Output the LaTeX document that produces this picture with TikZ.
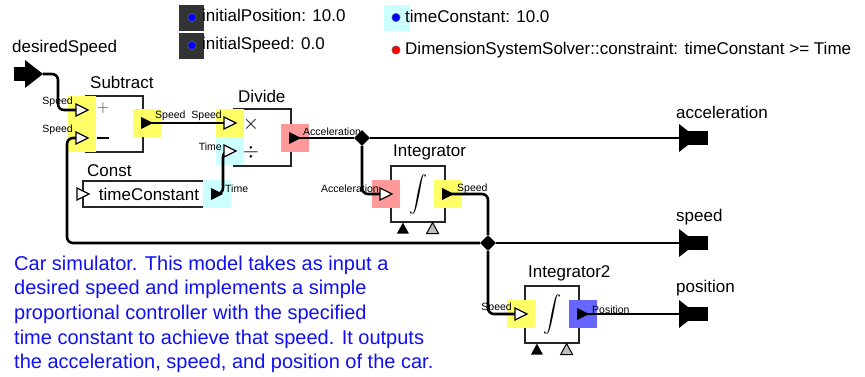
\documentclass[tikz,border=0pt]{standalone}
\usepackage{fontspec}
\setmainfont{Liberation Sans}
\usetikzlibrary{shapes.geometric,calc}

\definecolor{hlyellow}{HTML}{FFFF66}
\definecolor{hlcyan}{HTML}{CCFFFF}
\definecolor{hlred}{HTML}{FF9999}
\definecolor{hlblue}{HTML}{6666FF}
\definecolor{paramgray}{HTML}{333333}
\definecolor{notecolor}{HTML}{1010F0}

\newcommand\bigtxt{\fontsize{17}{20}\selectfont}
\newcommand\smalltxt{\fontsize{10.5}{12}\selectfont}
\newcommand\bigint{\resizebox*{!}{40pt}{$\displaystyle\int$}}

\tikzset{
  block/.style={draw=black!85,line width=1.2pt,fill=white,inner sep=0pt},
  portbox/.style={minimum size=28pt,inner sep=0pt},
  wire/.style={line width=2.6pt,rounded corners=6pt},
  plabel/.style={font=\smalltxt,inner sep=0pt},
  btitle/.style={font=\bigtxt,inner sep=0pt,anchor=base west},
  param/.style={font=\bigtxt,inner sep=0pt,anchor=base west},
  junction/.style={diamond,fill=black,inner sep=0pt,minimum size=16pt},
  inarrow/.pic={\filldraw[fill=white,line width=1.2pt] (-6,-6) -- (6,0) -- (-6,6) -- cycle;},
  outarrow/.pic={\fill (-6,-6) -- (6,0) -- (-6,6) -- cycle;},
  extin/.pic={\fill (-18,-14) -- (0,0) -- (-18,14) -- cycle; \fill (-29,-7) rectangle (-15,7);},
  extout/.pic={\fill (0,-14) -- (18,0) -- (0,14) -- cycle; \fill (9,-7) rectangle (29,7);},
}

\begin{document}
\begin{tikzpicture}[x=1pt,y=-1pt]
 \useasboundingbox (0,0) rectangle (865,377);
 % parameters
 \fill[paramgray] (179,5) rectangle (204,31);
 \fill[paramgray] (179,33) rectangle (204,59);
 \fill[hlcyan] (384,5) rectangle (410,31);
 \foreach \x/\y/\c in {192/17.5/blue,192/45.5/blue,396/17.5/blue,396/50/red}
   \filldraw[fill=\c,draw=black!60,line width=.5pt] (\x,\y) circle (4.2);
 \node[param] (p-pos) at (202,22) {initialPosition: 10.0};
 \node[param] (p-spd) at (202,50) {initialSpeed: 0.0};
 \node[param] (p-tc) at (405,22.5) {timeConstant: 10.0};
 \node[param] (p-chk) at (405,55) {DimensionSystemSolver::constraint: timeConstant >= Time};

 % blocks
 \node[block,minimum width=57pt,minimum height=56pt] (sub) at (114.5,124) {};
 \node[block,minimum width=57pt,minimum height=57pt] (div) at (262.5,137.5) {};
 \node[block,minimum width=132pt,minimum height=26pt,font=\bigtxt] (const) at (149,194) {timeConstant};
 \node[block,minimum width=54pt,minimum height=56pt] (int) at (418,194) {};
 \node[block,minimum width=54pt,minimum height=57pt] (int2) at (552,314.5) {};
 \node[btitle] (sub-t) at (90,89) {Subtract};
 \node[btitle] (div-t) at (238,103) {Divide};
 \node[btitle] (const-t) at (87,176) {Const};
 \node[btitle] (int-t) at (393,157) {Integrator};
 \node[btitle] (int2-t) at (528,277) {Integrator2};
 \node[text=black!70,inner sep=0pt] (sub-plus) at (103,108) {\fontsize{17}{17}\selectfont$+$};
 \node[inner sep=0pt] (sub-minus) at (103,138) {\rule{12pt}{2.2pt}};
 \node[inner sep=0pt] (div-times) at (251,124) {\fontsize{20}{20}\selectfont$\times$};
 \node[inner sep=0pt] (div-by) at (251,152) {\fontsize{20}{20}\selectfont$\div$};
 \node[inner sep=0pt] (int-sign) at (418,195) {\bigint};
 \node[inner sep=0pt] (int2-sign) at (552,315) {\bigint};
 \foreach \b in {int,int2} {
   \fill ($(\b.south west)+(12.5,0)$) -- ++(6,11) -- ++(-12,0) -- cycle;
   \filldraw[fill=gray!50,line width=1pt] ($(\b.south east)+(-13,0)$) -- ++(6,11) -- ++(-12,0) -- cycle;
 }

 % ports
 \node[portbox,fill=hlyellow] (sub-in1) at (82,110) {};
 \node[portbox,fill=hlyellow] (sub-in2) at (82,138) {};
 \node[portbox,fill=hlyellow] (sub-out) at (147,123) {};
 \node[portbox,fill=hlyellow] (div-in1) at (230,123) {};
 \node[portbox,fill=hlcyan] (div-in2) at (230,151) {};
 \node[portbox,fill=hlred] (div-out) at (295,138) {};
 \node[portbox] (const-in) at (83,194) {};
 \node[portbox,fill=hlcyan] (const-out) at (217,194) {};
 \node[portbox,fill=hlred] (int-in) at (386,194) {};
 \node[portbox,fill=hlyellow] (int-out) at (448,194) {};
 \node[portbox,fill=hlyellow] (int2-in) at (521,314) {};
 \node[portbox,fill=hlblue] (int2-out) at (583,314) {};
 \node[plabel,anchor=base east] (sub-in1-l) at (73,105) {Speed};
 \node[plabel,anchor=base east] (sub-in2-l) at (73,133) {Speed};
 \node[plabel,anchor=base west] (sub-out-l) at (155,119) {Speed};
 \node[plabel,anchor=base east] (div-in1-l) at (222,119) {Speed};
 \node[plabel,anchor=base east] (div-in2-l) at (222,151) {Time};
 \node[plabel,anchor=base west] (div-out-l) at (303,135.5) {Acceleration};
 \node[plabel,anchor=base west] (const-out-l) at (225,193) {Time};
 \node[plabel,anchor=base east] (int-in-l) at (379,192.5) {Acceleration};
 \node[plabel,anchor=base west] (int-out-l) at (457,191) {Speed};
 \node[plabel,anchor=base east] (int2-in-l) at (512,310.5) {Speed};
 \node[plabel,anchor=base west] (int2-out-l) at (592,313) {Position};

 % model ports
 \coordinate (dsp) at (43,74);
 \coordinate (acc) at (679,138);
 \coordinate (spd) at (679,243);
 \coordinate (pos) at (679,314);
 \node[btitle] (dsp-t) at (12,53) {desiredSpeed};
 \node[btitle] (acc-t) at (676,119) {acceleration};
 \node[btitle] (spd-t) at (676,222) {speed};
 \node[btitle] (pos-t) at (676,292) {position};
 \node[junction] (acc-j) at (362,138) {};
 \node[junction] (spd-j) at (488,243) {};

 % wires
 \draw[wire] (dsp) -| ([xshift=-24pt]sub-in1.center) -- (sub-in1.center);
 \draw[wire] (sub-out.center) -- (div-in1.center);
 \draw[wire] (const-out.center) -- ++(6,0) |- (div-in2.center);
 \draw[wire] (div-out.center) -- (acc-j) -- (acc);
 \draw[wire] (acc-j) |- (int-in.center);
 \draw[wire] (int-out.center) -| (spd-j);
 \draw[wire] (spd-j) -- (spd);
 \draw[wire] (spd-j) -| ([xshift=-15pt]sub-in2.center) -- (sub-in2.center);
 \draw[wire] (spd-j) |- (int2-in.center);
 \draw[wire] (int2-out.center) -- (pos);

 \foreach \p in {sub-in1,sub-in2,div-in1,div-in2,const-in,int-in,int2-in}
   \pic at (\p) {inarrow};
 \foreach \p in {sub-out,div-out,const-out,int-out,int2-out}
   \pic at (\p) {outarrow};
 \pic at (dsp) {extin};
 \foreach \p in {acc,spd,pos}
   \pic at (\p) {extout};

 \node[anchor=north west,align=left,inner sep=0pt,text=notecolor,font=\fontsize{20}{24.7}\selectfont] (note) at (14,255.5)
   {Car simulator. This model takes as input a\\desired speed and implements a simple\\proportional controller with the specified\\time constant to achieve that speed. It outputs\\the acceleration, speed, and position of the car.};
\end{tikzpicture}
\end{document}
